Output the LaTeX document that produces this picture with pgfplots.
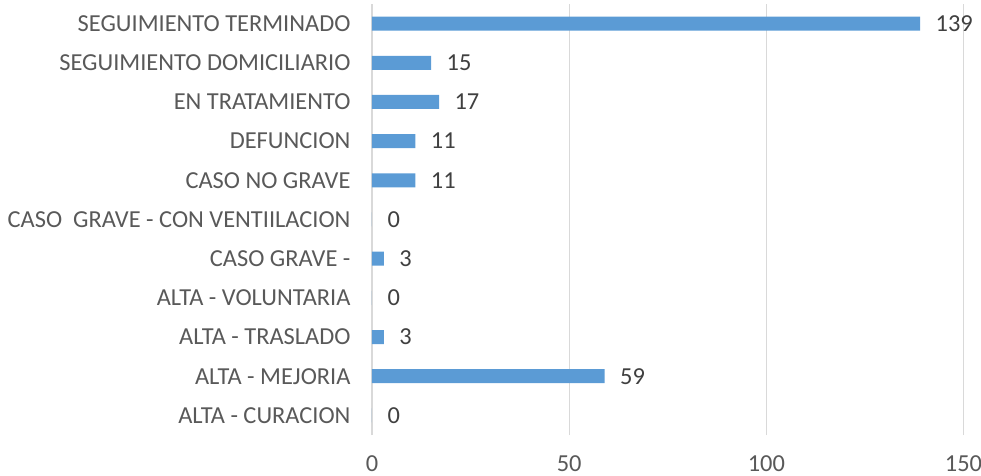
\documentclass[border=0pt]{standalone}
\usepackage{fontspec}
\setmainfont{Carlito}
\usepackage{pgfplots}
\pgfplotsset{compat=1.18}
\usetikzlibrary{calc}
\definecolor{barblue}{HTML}{5B9BD5}
\definecolor{txt}{HTML}{595959}
\definecolor{lbl}{HTML}{404040}
\definecolor{gridc}{HTML}{D9D9D9}
\begin{document}
\begin{tikzpicture}
\begin{axis}[
 name=ax,
 xbar, scale only axis, width=591.5bp, height=431bp,
 xmin=0, xmax=150, ymin=-0.5, ymax=10.5,
 xtick={0,50,100,150}, ytick={0,...,10},
 yticklabels={ALTA - CURACION, ALTA - MEJORIA, ALTA - TRASLADO, ALTA - VOLUNTARIA, CASO GRAVE -, CASO\ \ GRAVE - CON VENTIILACION, CASO NO GRAVE, DEFUNCION, EN TRATAMIENTO, SEGUIMIENTO DOMICILIARIO, SEGUIMIENTO TERMINADO},
 axis line style={draw=none},
 major tick length=0,
 xmajorgrids, grid style={draw=gridc, line width=1.3bp},
 tick label style={font=\fontsize{24.5}{29}\selectfont, text=txt},
 xticklabel style={yshift=-17bp},
 yticklabel style={xshift=-18bp},
 bar width=14bp,
 nodes near coords,
 nodes near coords style={font=\fontsize{24.5}{29}\selectfont, text=lbl, anchor=west, xshift=12bp},
 /pgf/number format/assume math mode=true,
]
\addplot[fill=barblue, draw=none] coordinates {(0,0) (59,1) (3,2) (0,3) (3,4) (0,5) (11,6) (11,7) (17,8) (15,9) (139,10)};
\end{axis}
\pgfresetboundingbox
\path[use as bounding box] ($(ax.south west)+(-372bp,-41bp)$) rectangle ($(ax.north east)+(17.5bp,4bp)$);
\end{tikzpicture}
\end{document}
